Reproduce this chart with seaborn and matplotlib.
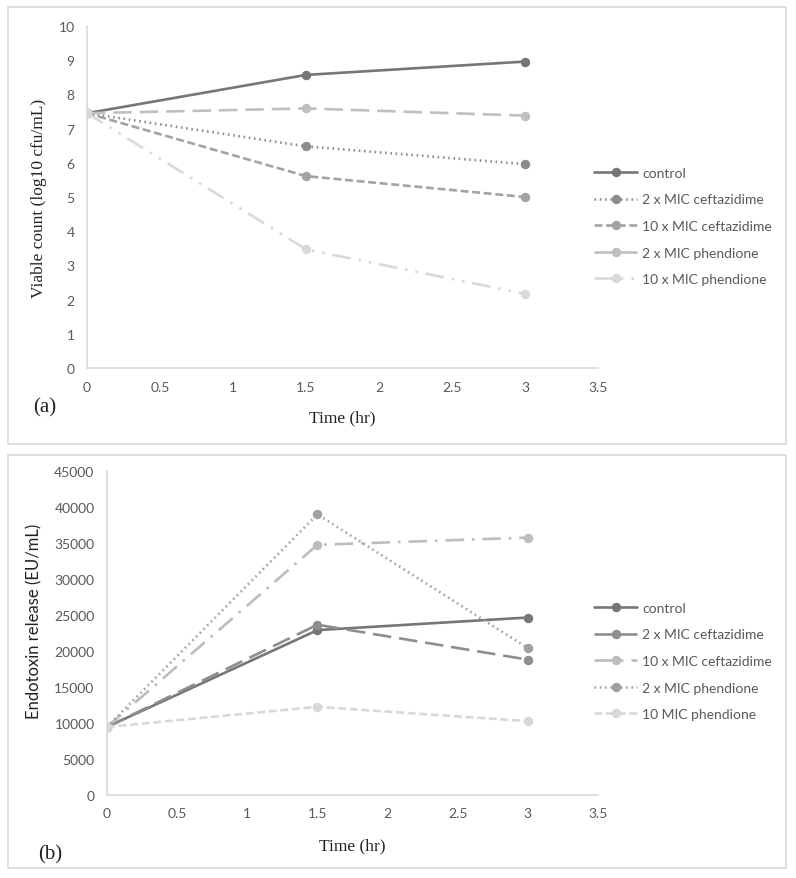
import matplotlib
matplotlib.use("Agg")
import matplotlib.pyplot as plt
from matplotlib.patches import Rectangle
import seaborn as sns

# time points (hr)
time_hr = [0, 1.5, 3]

# panel (a): viable count, log10 cfu/mL
labels_a = ["control", "2 x MIC ceftazidime", "10 x MIC ceftazidime",
            "2 x MIC phendione", "10 x MIC phendione"]
control_a = [7.45, 8.57, 8.96]
ceft2_a = [7.45, 6.48, 5.96]
ceft10_a = [7.45, 5.61, 5.0]
phen2_a = [7.45, 7.59, 7.38]
phen10_a = [7.45, 3.47, 2.17]

# panel (b): endotoxin release, EU/mL
labels_b = ["control", "2 x MIC ceftazidime", "10 x MIC ceftazidime",
            "2 x MIC phendione", "10 MIC phendione"]
control_b = [9450, 22900, 24650]
ceft2_b = [9450, 23650, 18800]
ceft10_b = [9450, 34750, 35750]
phen2_b = [9450, 38980, 20400]
phen10_b = [9450, 12250, 10250]

sns.set_theme(style="white")
plt.rcParams["font.family"] = ["Lato", "DejaVu Sans"]

SERIF = "Liberation Serif"
TICK_COL = "#595959"
SPINE_COL = "#d9d9d9"

styles_a = [
    ("#767676", "-"),
    ("#8c8c8c", (0, (0.6, 1.4))),
    ("#a3a3a3", (0, (3, 1.4))),
    ("#bfbfbf", (0, (7, 3))),
    ("#d9d9d9", (0, (7, 3, 1, 3, 1, 3))),
]
styles_b = [
    ("#767676", "-"),
    ("#8e8e8e", (0, (7, 3))),
    ("#bdbdbd", (0, (7, 3, 1, 3))),
    ("#a0a0a0", (0, (0.6, 1.4))),
    ("#d8d8d8", (0, (3, 1.4))),
]

fig = plt.figure(figsize=(7.96, 8.79), dpi=100)

# outer frames of the two panels
for y0, y1 in [(8, 445), (456, 869)]:
    fig.patches.append(Rectangle((8 / 796, 1 - y1 / 879), 778 / 796, (y1 - y0) / 879,
                                 transform=fig.transFigure, fill=False,
                                 edgecolor="#d9d9d9", linewidth=1.2))

ax_a = fig.add_axes([87 / 796, 1 - 369 / 879, 511 / 796, 342 / 879])
ax_b = fig.add_axes([107 / 796, 1 - 796 / 879, 491 / 796, 324 / 879])


def draw(ax, series, labels, styles):
    for vals, lab, (col, ls) in zip(series, labels, styles):
        sns.lineplot(x=time_hr, y=vals, ax=ax, label=lab, color=col,
                     linestyle=ls, linewidth=1.9, marker="o", markersize=6.8,
                     markeredgewidth=0, markerfacecolor=col)
    ax.set_xlim(0, 3.5)
    ax.set_xticks([0, 0.5, 1, 1.5, 2, 2.5, 3, 3.5])
    ax.set_xticklabels(["0", "0.5", "1", "1.5", "2", "2.5", "3", "3.5"])
    for s in ["top", "right"]:
        ax.spines[s].set_visible(False)
    for s in ["left", "bottom"]:
        ax.spines[s].set_color(SPINE_COL)
        ax.spines[s].set_linewidth(1.2)
    ax.tick_params(axis="both", length=0, labelsize=10, labelcolor=TICK_COL, pad=9)
    ax.get_legend().remove()


draw(ax_a, [control_a, ceft2_a, ceft10_a, phen2_a, phen10_a], labels_a, styles_a)
ax_a.set_ylim(0, 10)
ax_a.set_yticks(range(0, 11))
ax_a.set_ylabel("Viable count (log10 cfu/mL)", fontfamily=SERIF, fontsize=12.5, color="#222222")
ax_a.yaxis.set_label_coords(-0.055 - 12 / 511, 0.5)
ax_a.set_xlabel("Time (hr)", fontfamily=SERIF, fontsize=12.5, color="#222222", labelpad=12)

draw(ax_b, [control_b, ceft2_b, ceft10_b, phen2_b, phen10_b], labels_b, styles_b)
ax_b.set_ylim(0, 45000)
ax_b.set_yticks(range(0, 45001, 5000))
ax_b.set_ylabel("Endotoxin release (EU/mL)", fontsize=12, color="#222222")
ax_b.yaxis.set_label_coords(-(107 - 42) / 491, 0.54)
ax_b.set_xlabel("Time (hr)", fontfamily=SERIF, fontsize=12.5, color="#222222", labelpad=13)

fig.text(45 / 796, 1 - 408 / 879, "(a)", fontfamily=SERIF, fontsize=15, color="#222222",
         ha="center", va="center")
fig.text(50 / 796, 1 - 855 / 879, "(b)", fontfamily=SERIF, fontsize=15, color="#222222",
         ha="center", va="center")

for ax, yc in [(ax_a, 227), (ax_b, 662)]:
    h, l = ax.get_legend_handles_labels()
    fig.legend(h, l, loc="center left", bbox_to_anchor=(594 / 796, 1 - yc / 879),
               frameon=False, fontsize=10, handlelength=3.1, handletextpad=0.35,
               labelspacing=1.05, borderpad=0, borderaxespad=0, labelcolor=TICK_COL)

fig.savefig("out.png", dpi=100)
